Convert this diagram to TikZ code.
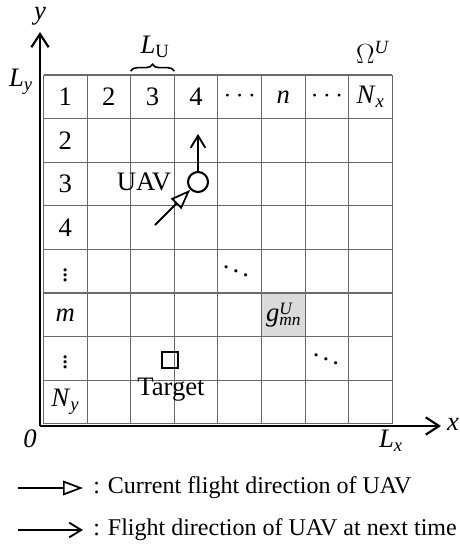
\documentclass[tikz,border=0pt]{standalone}
\usepackage{fontspec}
\setmainfont{Liberation Serif}
\usetikzlibrary{arrows.meta,positioning,decorations.pathreplacing}
\definecolor{gridGray}{HTML}{6A6A6A}
\definecolor{cellGray}{HTML}{DADADA}
\newcommand{\sub}[2]{\textit{#1}\textsubscript{\textit{#2}}}
\def\cw{43.6}

\begin{document}
\begin{tikzpicture}[
  x=0.75pt,y=-0.75pt,
  font=\fontsize{20}{22}\selectfont,
  every node/.style={inner sep=1pt},
  cellline/.style={draw=gridGray,line width=0.8pt},
  axisline/.style={line width=2pt,-{Straight Barb[length=10pt,width=13pt,line width=1.6pt]}},
  nextarrow/.style={line width=1.5pt,-{Straight Barb[length=9pt,width=11pt,line width=1.4pt]}},
  curarrow/.style={line width=1.5pt,-{Triangle[open,length=15pt,width=11pt,line width=1.3pt]}},
  legendtext/.style={anchor=west,inner sep=0pt,font=\fontsize{18}{20}\selectfont}
]
  \useasboundingbox (0,0) rectangle (460,546);

  % grid
  \fill[cellGray] ({43.5+5*\cw},{75+5*\cw}) rectangle ({43.5+6*\cw},{75+6*\cw});
  \foreach \i in {0,...,8} {
    \draw[cellline] ({43.5+\i*\cw},75) -- ({43.5+\i*\cw},{75+8*\cw});
    \draw[cellline] (43.5,{75+\i*\cw}) -- ({43.5+8*\cw},{75+\i*\cw});
  }

  % axes
  \coordinate (origin) at (40,426);
  \coordinate (xend) at (441,426);
  \coordinate (yend) at (40,32);
  \draw[axisline] (origin) -- (xend);
  \draw[axisline] (origin) -- (yend);
  \node (ylabel) at (40,16) {\textit{y}};
  \node (xlabel) at (453,424) {\textit{x}};
  \node (zero) at (30,439) {\textit{0}};
  \node (lx) at (391,441) {\sub{L}{x}};
  \node (ly) at (21,82) {\sub{L}{y}};
  \node (omega) at (373,52) {$\Omega$\textsuperscript{\textit{U}}};

  % cell size brace
  \draw[line width=1.2pt,decorate,decoration={brace,amplitude=5pt}]
    ({43.5+2*\cw},71) -- ({43.5+3*\cw},71);
  \node (lu) at (155,47) {\textit{L}\textsubscript{U}};

  % row and column indices
  \foreach \t [count=\c] in {1,2,3,4,$\cdots$,\textit{n},$\cdots$,\sub{N}{x}}
    \node (col\c) at ({43.5+(\c-0.5)*\cw},{75+0.5*\cw}) {\t};
  \foreach \t [count=\r from 2] in {2,3,4,$\vdots$,\textit{m},$\vdots$,\sub{N}{y}}
    \node (row\r) at ({43.5+0.5*\cw},{75+(\r-0.5)*\cw}) {\t};
  \node (dd1) at (236,267) {$\ddots$};
  \node (dd2) at (326,355) {$\ddots$};
  \node (gmn) at ({43.5+5.5*\cw},{75+5.5*\cw}) {\textit{g}\rlap{\raisebox{0.55ex}{\fontsize{13}{13}\selectfont\textit{U}}}\raisebox{-0.4ex}{\fontsize{13}{13}\selectfont\textit{mn}}};

  % UAV and target
  \node[circle,draw,line width=1.6pt,minimum size=15pt,inner sep=0pt] (uav) at (198,182) {};
  \node (uavname) at (144,182) {UAV};
  \coordinate (uavtail) at (155,225);
  \coordinate (uavhead) at (198,134);
  \draw[curarrow] (uavtail) -- (uav);
  \draw[nextarrow] (uav.north) -- (uavhead);
  \node[draw,line width=1.5pt,minimum size=12pt,inner sep=0pt] (target) at (170,360) {};
  \node (targetname) at (171,390) {Target};

  % legend
  \coordinate (leg1a) at (18,488);
  \coordinate (leg1b) at (83,488);
  \coordinate (leg2a) at (18,530);
  \coordinate (leg2b) at (83,530);
  \draw[curarrow] (leg1a) -- (leg1b);
  \draw[nextarrow] (leg2a) -- (leg2b);
  \node[legendtext] (leg1) at (93,488) {: Current flight direction of UAV};
  \node[legendtext] (leg2) at (93,530) {: Flight direction of UAV at next time};
\end{tikzpicture}
\end{document}
